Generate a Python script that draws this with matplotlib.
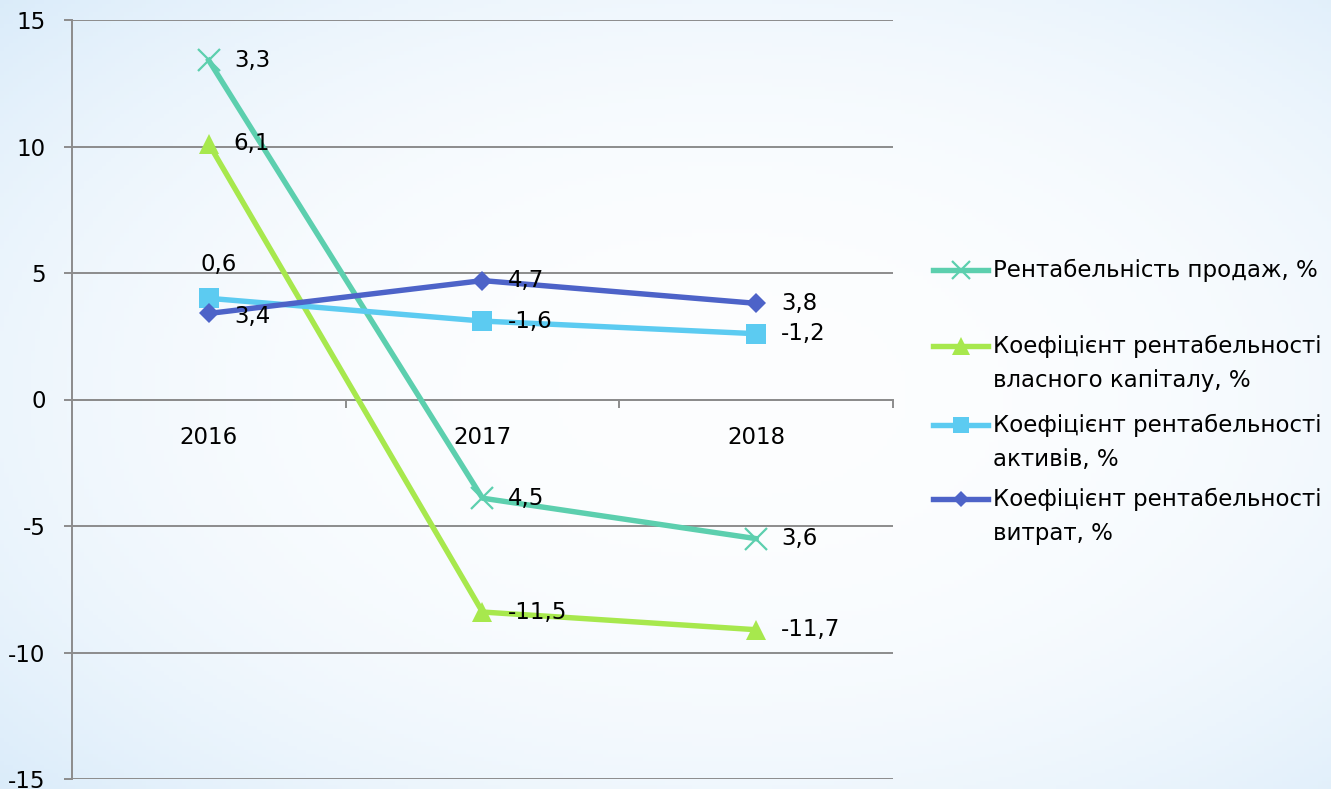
import numpy as np
import matplotlib
matplotlib.use("Agg")
import matplotlib.pyplot as plt
from matplotlib.lines import Line2D

plt.rcParams['font.family'] = ['DejaVu Sans']
plt.rcParams['axes.unicode_minus'] = False

# chart data
years = ['2016', '2017', '2018']
sales = [13.4, -3.9, -5.5]
equity = [10.1, -8.4, -9.1]
assets = [4.0, 3.1, 2.6]
costs = [3.4, 4.7, 3.8]

# data labels as printed on the chart
sales_labels = ['3,3', '4,5', '3,6']
equity_labels = ['6,1', '-11,5', '-11,7']
assets_labels = ['0,6', '-1,6', '-1,2']
costs_labels = ['3,4', '4,7', '3,8']

names = ['Рентабельність продаж, %',
         'Коефіцієнт рентабельності\nвласного капіталу, %',
         'Коефіцієнт рентабельності\nактивів, %',
         'Коефіцієнт рентабельності\nвитрат, %']

FS = 16.5
W, H = 1331, 789
fig = plt.figure(figsize=(W / 100, H / 100), dpi=100)

# soft blue background with a light centre
bg = fig.add_axes([0, 0, 1, 1], zorder=-10)
yy, xx = np.mgrid[0:1:200j, 0:1:300j]
r = np.sqrt(((xx - 0.55) / 0.8) ** 2 + ((yy - 0.5) / 0.8) ** 2)
r = np.clip(r, 0, 1) ** 2.5
c0 = np.array([0.99, 0.995, 1.0])
c1 = np.array([0.83, 0.91, 0.975])
img = c0 + (c1 - c0) * r[..., None]
bg.imshow(img, extent=[0, 1, 0, 1], aspect='auto', origin='lower')
bg.axis('off')

ax = fig.add_axes([72 / W, 10 / H, (893 - 72) / W, 759 / H])
ax.patch.set_alpha(0)

styles = [
    dict(color='#5ccfae', marker='x', ms=16, mew=1.6),
    dict(color='#a7e84d', marker='^', ms=15, mew=0),
    dict(color='#5ccbf1', marker='s', ms=14, mew=0),
    dict(color='#4d63c8', marker='D', ms=10, mew=0),
]
series = [sales, equity, assets, costs]
labels = [sales_labels, equity_labels, assets_labels, costs_labels]

x = np.arange(len(years))
for vals, st in zip(series, styles):
    ax.plot(x, vals, color=st['color'], lw=3.9, marker=st['marker'],
            ms=st['ms'], mew=st['mew'], mec=st['color'], mfc=st['color'],
            zorder=3)

for si, (vals, labs) in enumerate(zip(series, labels)):
    for i, (v, t) in enumerate(zip(vals, labs)):
        if si == 2 and i == 0:
            ax.annotate(t, (x[i], v), xytext=(7, 24), textcoords='offset points',
                        ha='center', va='center', fontsize=FS, zorder=5)
        else:
            dy = -2 if si == 3 and i == 0 else 0
            ax.annotate(t, (x[i], v), xytext=(18, dy), textcoords='offset points',
                        ha='left', va='center', fontsize=FS, zorder=5)

ax.set_xlim(-0.5, 2.5)
ax.set_ylim(-15, 15)
ax.set_yticks(np.arange(-15, 16, 5))
ax.yaxis.grid(True, color='#8c8c8c', lw=1.4)
ax.set_axisbelow(True)
ax.tick_params(axis='y', length=6, width=1.4, color='#8c8c8c', pad=13, labelsize=FS)

for s in ['top', 'right']:
    ax.spines[s].set_visible(False)
ax.spines['left'].set_color('#8c8c8c')
ax.spines['left'].set_linewidth(1.4)
ax.spines['bottom'].set_position(('data', 0))
ax.spines['bottom'].set_color('#8c8c8c')
ax.spines['bottom'].set_linewidth(1.4)

ax.set_xticks(x)
ax.set_xticklabels(years)
ax.tick_params(axis='x', which='major', length=0, pad=19, labelsize=FS)
ax.set_xticks([0.5, 1.5, 2.5], minor=True)
ax.tick_params(axis='x', which='minor', length=6, width=1.4, color='#8c8c8c')

# legend built by hand so the key sits on the first line of each label
leg_y = [270, 346, 425, 499]
for st, name, ly in zip(styles, names, leg_y):
    yf = 1 - ly / H
    fig.add_artist(Line2D([933 / W, 988 / W], [yf, yf], color=st['color'], lw=3.9,
                          transform=fig.transFigure))
    fig.add_artist(Line2D([960.5 / W], [yf], color=st['color'], marker=st['marker'],
                          ms=st['ms'] * 0.85, mew=st['mew'], mec=st['color'],
                          mfc=st['color'], transform=fig.transFigure))
    fig.text(993 / W, yf + 11 / H, name, ha='left', va='top', fontsize=FS,
             linespacing=1.62)

fig.savefig('out.png', dpi=100)
